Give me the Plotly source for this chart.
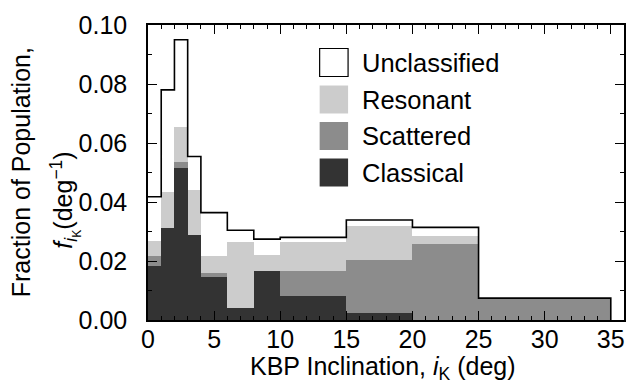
import plotly.graph_objects as go

# Inclination bin edges (deg) and population fraction per degree for each class
bin_edges = [0, 1, 2, 3, 4, 6, 8, 10, 15, 20, 25, 35]
classical = [0.0183, 0.0312, 0.0515, 0.0288, 0.0146, 0.0042, 0.0167, 0.0081, 0.0025, 0.0, 0.0]
scattered = [0.0034, 0.0, 0.0021, 0.0, 0.0013, 0.0, 0.0, 0.0085, 0.0178, 0.0258, 0.0074]
resonant = [0.0051, 0.0122, 0.0118, 0.0153, 0.0058, 0.0222, 0.0052, 0.0098, 0.0117, 0.0027, 0.0]
unclassified = [0.0150, 0.0346, 0.0296, 0.0113, 0.0147, 0.0040, 0.0055, 0.0016, 0.0019, 0.0029, 0.0]

class_names = ["Classical", "Scattered", "Resonant", "Unclassified"]
class_values = [classical, scattered, resonant, unclassified]
class_colors = ["#333333", "#8c8c8c", "#cccccc", "#ffffff"]

x_ticks = [0, 5, 10, 15, 20, 25, 30, 35]
y_ticks = [0.00, 0.02, 0.04, 0.06, 0.08, 0.10]

FONT = "Liberation Sans, Arial, Helvetica, sans-serif"
FS = 25

W, H = 627, 388
L, R, T, B = 147.5, 2.5, 25.0, 68.0
plot_w = W - L - R
plot_h = H - T - B


def px_x(px):
    return (px - L) / plot_w


def px_y(py):
    return (H - B - py) / plot_h


centers = [(a + b) / 2 for a, b in zip(bin_edges[:-1], bin_edges[1:])]
widths = [b - a for a, b in zip(bin_edges[:-1], bin_edges[1:])]

fig = go.Figure()
for name, vals, col in zip(class_names, class_values, class_colors):
    fig.add_trace(go.Bar(
        x=centers, y=vals, width=widths, name=name,
        marker=dict(color=col, line=dict(width=0)),
        showlegend=False, hoverinfo="skip",
    ))

# Black outline around the total (stacked) histogram
totals = [sum(v) for v in zip(*class_values)]
step_x = list(bin_edges) + [bin_edges[-1]]
step_y = totals + [totals[-1], 0.0]
fig.add_trace(go.Scatter(
    x=step_x, y=step_y, mode="lines", line=dict(color="black", width=1.6, shape="hv"),
    showlegend=False, hoverinfo="skip",
))

# Hand-drawn legend with large swatches
legend_rows = list(reversed(list(zip(class_names, class_colors))))
row_centers = [62.5, 99.5, 136.0, 172.5]
shapes = []
annotations = []
for (name, col), cy in zip(legend_rows, row_centers):
    shapes.append(dict(
        type="rect", xref="paper", yref="paper",
        x0=px_x(319.5), x1=px_x(348.0), y0=px_y(cy + 14), y1=px_y(cy - 14),
        fillcolor=col,
        line=dict(color="black" if name == "Unclassified" else col, width=1.2 if name == "Unclassified" else 0),
    ))
    annotations.append(dict(
        xref="paper", yref="paper", x=px_x(360), y=px_y(cy),
        xanchor="left", yanchor="middle", text=name, showarrow=False,
        font=dict(family=FONT, size=FS + 0.5, color="black"),
    ))

# Two-line y-axis title
annotations.append(dict(
    xref="paper", yref="paper", x=px_x(20), y=px_y(172.5),
    xanchor="center", yanchor="middle", textangle=-90, showarrow=False,
    text="Fraction of Population,", font=dict(family=FONT, size=FS, color="black"),
))
annotations.append(dict(
    xref="paper", yref="paper", x=px_x(64), y=px_y(200),
    xanchor="center", yanchor="middle", textangle=-90, showarrow=False,
    text="<i>f</i><sub><i>i</i><sub>K</sub></sub>(deg<sup>\u22121</sup>)",
    font=dict(family=FONT, size=FS, color="black"),
))

# x-axis title
annotations.append(dict(
    xref="paper", yref="paper", x=px_x(383), y=px_y(368),
    xanchor="center", yanchor="middle", showarrow=False,
    text="KBP Inclination, <i>i</i><sub>K</sub> (deg)",
    font=dict(family=FONT, size=FS, color="black"),
))

axis_common = dict(
    showline=True, linecolor="black", linewidth=1.5, mirror="allticks",
    ticks="inside", ticklen=9, tickwidth=1.2, tickcolor="black",
    showgrid=False, zeroline=False,
    tickfont=dict(family=FONT, size=FS, color="black"),
)

fig.update_layout(
    width=W, height=H,
    margin=dict(l=L, r=R, t=T, b=B, pad=0),
    paper_bgcolor="white", plot_bgcolor="white",
    barmode="stack", bargap=0,
    shapes=shapes, annotations=annotations,
    xaxis=dict(
        range=[0, 36], tickvals=x_ticks, ticktext=[str(v) for v in x_ticks],
        minor=dict(ticks="inside", ticklen=4.5, dtick=1, tick0=0, tickcolor="black", tickwidth=1.1),
        ticklabelstandoff=-4,
        **axis_common,
    ),
    yaxis=dict(
        range=[0, 0.1], tickvals=y_ticks, ticktext=[f"{v:.2f}" for v in y_ticks],
        minor=dict(ticks="inside", ticklen=4.5, dtick=0.01, tick0=0, tickcolor="black", tickwidth=1.1),
        ticklabelstandoff=14,
        **axis_common,
    ),
)

fig.write_html("out.html")
